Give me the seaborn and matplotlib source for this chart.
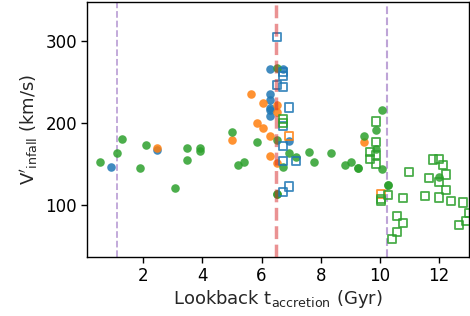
import matplotlib
matplotlib.use("Agg")
import matplotlib.pyplot as plt
import seaborn as sns
import pandas as pd

# lookback accretion time (Gyr) and V'_infall (km/s) per group
blue_circ_t = [0.90, 2.47, 6.28, 6.73, 6.28, 6.28, 6.28, 6.28, 6.28, 6.93]
blue_circ_v = [146, 167, 266, 266.6, 235.6, 228.6, 219, 216, 209, 178.5]

orange_circ_t = [2.47, 4.99, 5.65, 6.05, 6.51, 6.51, 5.85, 6.06, 6.28, 6.28, 6.51, 9.46]
orange_circ_v = [169, 179.7, 236, 224, 222.5, 213, 199.8, 194, 184.3, 160, 151, 177]

green_circ_t = [0.53, 1.10, 1.28, 2.08, 1.88, 3.08, 3.49, 3.49, 3.92, 3.92, 4.99,
                5.20, 5.41, 5.83, 6.51, 6.51, 6.93, 7.16, 7.60, 7.77, 6.73, 6.51,
                6.51, 8.35, 8.81, 9.04, 9.26, 9.26, 10.06, 9.86, 9.46, 9.86, 10.06,
                10.26, 10.26, 11.99]
green_circ_v = [153, 164, 181, 173, 145, 121, 170, 155, 170, 166, 189,
                149, 152, 177, 267, 179, 163, 159, 165, 153, 147, 113,
                113, 163, 149, 153, 145.5, 145.5, 216, 191, 184, 168, 144,
                124, 124, 134]

blue_sq_t = [6.51, 6.73, 6.73, 6.51, 6.73, 6.92, 6.73, 6.73, 6.73, 7.16, 6.73, 6.93]
blue_sq_v = [305, 262.8, 257.2, 247, 244.5, 219, 196.8, 171.6, 154, 154, 115.5, 122.6]

orange_sq_t = [6.92, 10.05]
orange_sq_v = [184.6, 113]

green_sq_t = [6.73, 6.73, 9.86, 9.86, 9.66, 9.66, 9.86, 9.86, 10.05, 10.05, 10.28,
              10.59, 10.78, 10.59, 10.41, 10.78, 10.99, 11.79, 11.99, 12.14, 11.65,
              12.25, 11.99, 12.25, 11.52, 11.99, 12.41, 12.82, 12.69, 12.93, 13.01]
green_sq_v = [205, 200, 202, 177, 164.5, 156, 160.5, 150, 107, 104.5, 112,
              86.7, 77.7, 67, 58.8, 108, 140.5, 155.5, 156.5, 148.8, 133,
              137.2, 127.7, 118.7, 111, 109.2, 104.5, 103, 75.6, 80.8, 90.2]

t_first = 1.10
t_mid = 6.50
t_last = 10.24

sns.set_style("ticks")
plt.rcParams["font.family"] = ["DejaVu Sans"]

fig, ax = plt.subplots(figsize=(4.7, 3.16), dpi=100)
fig.subplots_adjust(left=0.186, right=0.997, top=0.994, bottom=0.188)

blue, orange, green = "#1f77b4", "#ff7f0e", "#2ca02c"

for t, v, c in [(blue_circ_t, blue_circ_v, blue),
                (orange_circ_t, orange_circ_v, orange),
                (green_circ_t, green_circ_v, green)]:
    df = pd.DataFrame({"t": t, "v": v})
    sns.scatterplot(data=df, x="t", y="v", ax=ax, color=c, marker="o",
                    s=38, linewidth=0, alpha=0.85, zorder=3)

for t, v, c in [(blue_sq_t, blue_sq_v, blue),
                (orange_sq_t, orange_sq_v, orange),
                (green_sq_t, green_sq_v, green)]:
    df = pd.DataFrame({"t": t, "v": v})
    sns.scatterplot(data=df, x="t", y="v", ax=ax, marker="s", s=34,
                    facecolor="none", edgecolor=c, linewidth=1.3,
                    alpha=0.85, zorder=3)

ax.axvline(t_first, color="tab:purple", ls="--", lw=1.3, alpha=0.6, zorder=2)
ax.axvline(t_last, color="tab:purple", ls="--", lw=1.5, alpha=0.6, zorder=2)
ax.axvline(t_mid, color="tab:red", ls="--", lw=2.5, alpha=0.5, zorder=4)

ax.set_xlim(0.11, 13.0)
ax.set_ylim(37, 348)
ax.set_xticks([2, 4, 6, 8, 10, 12])
ax.set_yticks([100, 200, 300])
ax.tick_params(labelsize=12, direction="out", length=4, width=1, colors="black")
for sp in ax.spines.values():
    sp.set_visible(True)
    sp.set_color("black")
    sp.set_linewidth(1)

ax.set_xlabel(r"Lookback $\rm t_{accretion}$ (Gyr)", fontsize=13, labelpad=2)
ax.set_ylabel(r"$\rm V'_{infall}$ (km/s)", fontsize=13, labelpad=4)

fig.savefig("out.png", dpi=100)
